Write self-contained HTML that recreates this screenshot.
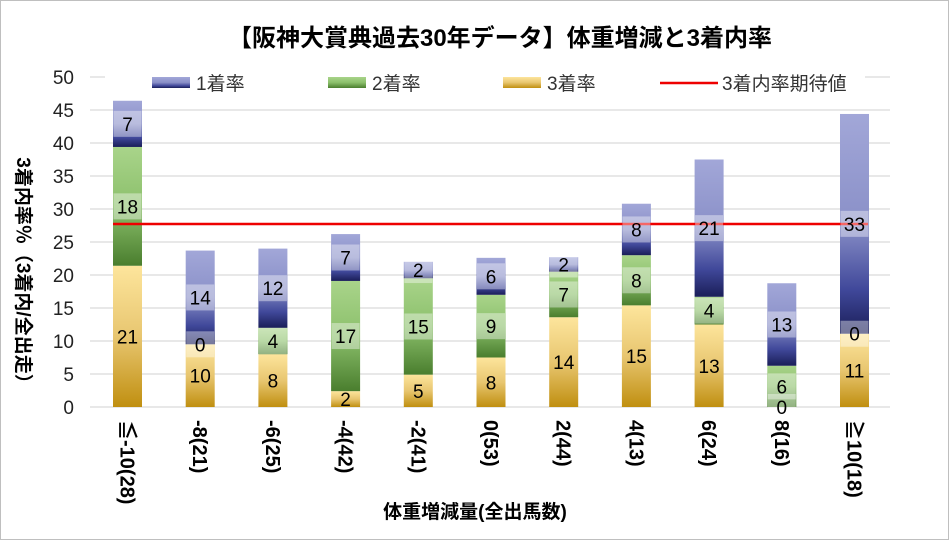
<!DOCTYPE html>
<html><head><meta charset="utf-8"><style>
body{margin:0;background:#fff}
text{font-family:"Liberation Sans","Noto Sans CJK JP",sans-serif}
</style></head><body>
<svg width="949" height="540" xmlns="http://www.w3.org/2000/svg">
<defs>
<linearGradient id="g1" x1="0" y1="0" x2="0" y2="1"><stop offset="0" stop-color="#a2a7d8"/><stop offset="0.5" stop-color="#8a90c8"/><stop offset="0.8" stop-color="#40489a"/><stop offset="1" stop-color="#1a1e58"/></linearGradient>
<linearGradient id="g2" x1="0" y1="0" x2="0" y2="1"><stop offset="0" stop-color="#a9d48a"/><stop offset="0.5" stop-color="#8cc06c"/><stop offset="1" stop-color="#4a7e2e"/></linearGradient>
<linearGradient id="g3" x1="0" y1="0" x2="0" y2="1"><stop offset="0" stop-color="#fde59c"/><stop offset="0.5" stop-color="#e8c670"/><stop offset="1" stop-color="#c08f10"/></linearGradient>
</defs>
<rect x="0.5" y="0.5" width="948" height="539" fill="#fff" stroke="#bfbfbf"/>
<text x="500" y="46" font-size="24" font-weight="bold" text-anchor="middle">【阪神大賞典過去30年データ】体重増減と3着内率</text>
<g stroke="#d9d9d9" stroke-width="1.3">
<line x1="90" x2="890" y1="407" y2="407"/><line x1="90" x2="890" y1="374" y2="374"/><line x1="90" x2="890" y1="341" y2="341"/><line x1="90" x2="890" y1="308" y2="308"/><line x1="90" x2="890" y1="275" y2="275"/><line x1="90" x2="890" y1="242" y2="242"/><line x1="90" x2="890" y1="209" y2="209"/><line x1="90" x2="890" y1="176" y2="176"/><line x1="90" x2="890" y1="143" y2="143"/><line x1="90" x2="890" y1="110" y2="110"/><line x1="90" x2="890" y1="77" y2="77"/>
</g>
<g font-size="19" text-anchor="end" fill="#222">
<text x="74" y="414">0</text><text x="74" y="381">5</text><text x="74" y="348">10</text><text x="74" y="315">15</text><text x="74" y="282">20</text><text x="74" y="249">25</text><text x="74" y="216">30</text><text x="74" y="183">35</text><text x="74" y="150">40</text><text x="74" y="117">45</text><text x="74" y="84">50</text>
</g>
<rect x="105" y="72" width="760" height="22" fill="#fff"/>
<rect x="152" y="77" width="38" height="11" fill="url(#g1)"/><text x="196" y="90" font-size="19" fill="#333">1着率</text>
<rect x="328" y="77" width="38" height="11" fill="url(#g2)"/><text x="372" y="90" font-size="19" fill="#333">2着率</text>
<rect x="503" y="77" width="38" height="11" fill="url(#g3)"/><text x="547" y="90" font-size="19" fill="#333">3着率</text>
<line x1="660" x2="718" y1="83" y2="83" stroke="#e00" stroke-width="2.5"/><text x="722" y="90" font-size="19" fill="#333">3着内率期待値</text>
<g id="bars"></g>
<line x1="113" x2="868" y1="224" y2="224" stroke="#e00" stroke-width="2.5"/>
<g id="labels" font-size="19" text-anchor="middle"></g>
<text transform="translate(17,275) rotate(90)" font-size="19" font-weight="bold" text-anchor="middle">3着内率％（3着内/全出走）</text>
<text x="475" y="518" font-size="19" font-weight="bold" text-anchor="middle">体重増減量(全出馬数)</text>
<g id="xl" font-size="20" font-weight="bold"></g>
</svg>
<script>
(function(){
var d=[[21.4,18,7],[9.5,0,14.2],[8,4,12],[2.4,16.7,7.1],[4.9,14.6,2.5],[7.5,9.5,5.6],[13.6,6.9,2.2],[15.4,7.6,7.8],[12.5,4.2,20.8],[0,6.25,12.5],[11.1,0,33.3]];
var names=["≦-10(28)","-8(21)","-6(25)","-4(42)","-2(41)","0(53)","2(44)","4(13)","6(24)","8(16)","≧10(18)"];
var lab=[[21,18,7],[10,0,14],[8,4,12],[2,17,7],[5,15,2],[8,9,6],[14,7,2],[15,8,8],[13,4,21],[0,6,13],[11,0,33]];
var s=6.6,ns="http://www.w3.org/2000/svg",B=document.getElementById("bars"),L=document.getElementById("labels"),X=document.getElementById("xl");
function el(t,a,p){var e=document.createElementNS(ns,t);for(var k in a)e.setAttribute(k,a[k]);p.appendChild(e);return e;}
for(var i=0;i<11;i++){var cx=127.5+i*72.7,yy=407;
 for(var j=0;j<3;j++){var h=d[i][j]*s;var tp=yy-h;
  if(h>0)el("rect",{x:cx-14.5,y:tp,width:29,height:h,fill:"url(#g"+(3-j)+")"},B);
  var my=yy-h/2;
  if(j>0||lab[i][j]==0)el("rect",{x:cx-14,y:my-13,width:28,height:26,fill:"#fff","fill-opacity":0.4},L);
  var t=el("text",{x:cx,y:my+7},L);t.textContent=lab[i][j];
  yy=tp;}
 var tx=el("text",{transform:"translate("+(cx-7)+",420) rotate(90)"},X);tx.textContent=names[i];
}
})();
</script>
</body></html>
